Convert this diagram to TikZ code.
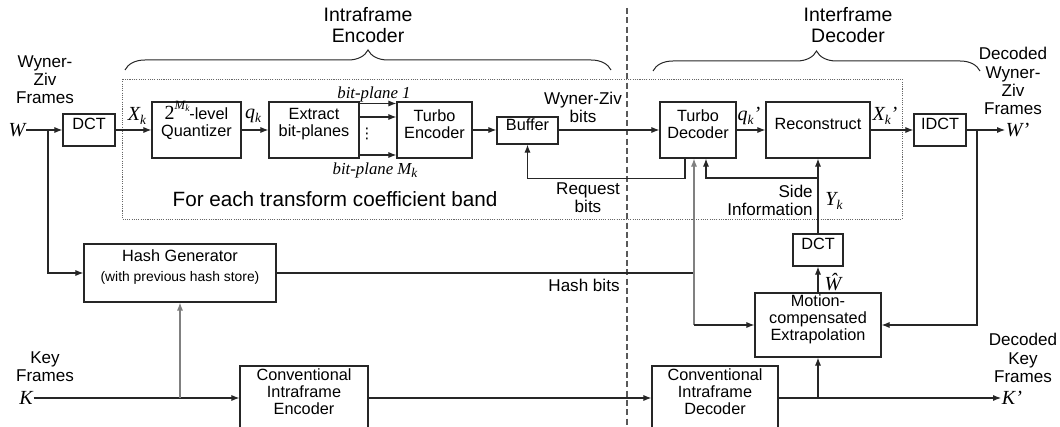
\documentclass[tikz,border=0pt]{standalone}
\usepackage{fontspec}
\setmainfont{Liberation Sans}
\newfontfamily\tnr{Liberation Serif}
\newfontfamily\djv{DejaVu Sans}
\usetikzlibrary{arrows.meta,fit,decorations.pathreplacing}
\newcommand{\lsub}[1]{\raisebox{-0.45ex}{\fontsize{10}{10}\selectfont #1}}
\newcommand{\mi}[1]{{\tnr\itshape\fontsize{15}{15}\selectfont #1}}
\tikzset{
 box/.style={draw=black!85, line width=0.9pt, inner sep=0pt, align=center, font=\fontsize{12.2}{12.8}\selectfont},
 ln/.style={draw=black!85, line width=0.8pt},
 arr/.style={ln, -{Latex[length=6pt,width=4.6pt]}},
 garr/.style={arr, draw=black!50},
 gln/.style={ln, draw=black!50},
 lbl/.style={align=center, inner sep=0pt, font=\fontsize{12.8}{13.6}\selectfont},
 head/.style={align=center, inner sep=0pt, font=\fontsize{14.6}{15.8}\selectfont},
 mlbl/.style={inner sep=0.5pt},
 bp/.style={inner sep=0pt, font=\tnr\itshape\fontsize{12.6}{12.6}\selectfont},
 brc/.style={decorate, decoration={brace, amplitude=15pt}, line width=0.75pt, draw=black!85},
}
\begin{document}
\begin{tikzpicture}[x=0.75pt,y=-0.75pt]
\useasboundingbox (0,0) rectangle (1060,427);
% headers and braces
\node[head] (hEnc) at (368,25) {Intraframe\\Encoder};
\node[head] (hDec) at (848,25) {Interframe\\Decoder};
\draw[brc] (125,70) -- (611,70);
\draw[brc] (653,71) -- (980,71);
% dividers
\draw[draw=black!65, line width=0.9pt, dash pattern=on 4.5pt off 2.5pt] (627,8) -- (627,427);
\draw[draw=black!60, line width=0.7pt, dash pattern=on 0.8pt off 0.9pt] (122,79) rectangle (902,219);
\node[font=\fontsize{15.5}{15.5}\selectfont, inner sep=0pt] (band) at (335,199) {For each transform coefficient band};
% side labels
\node[lbl] (wzf) at (45,80) {Wyner-\\Ziv\\Frames};
\node[lbl] (kf) at (45,367) {Key\\Frames};
\node[lbl] (dwz) at (1013,81) {Decoded\\Wyner-\\Ziv\\Frames};
\node[lbl] (dkf) at (1023,358) {Decoded\\Key\\Frames};
% main row
\node[mlbl] (w) at (17,130) {\mi{W}};
\node[box, fit={(63,114) (115,146)}] (dct1) {DCT};
\node[box, fit={(152,102) (241,158)}] (quant) {{\tnr\fontsize{15}{15}\selectfont 2}\raisebox{1.2ex}{\tnr\itshape\fontsize{9.5}{9.5}\selectfont M\raisebox{-0.35ex}{\fontsize{7}{7}\selectfont k}}-level\\Quantizer};
\node[box, fit={(269,102) (359,158)}] (extract) {Extract\\bit-planes};
\node[box, fit={(397,102) (472,158)}] (te) {Turbo\\Encoder};
\node[box, fit={(497,117) (558,144)}] (buffer) {Buffer};
\node[box, fit={(660,102) (736,158)}] (td) {Turbo\\Decoder};
\node[box, fit={(766,102) (870,158)}] (recon) {Reconstruct};
\node[box, fit={(914,114) (966,146)}] (idct) {IDCT};
\node[mlbl, anchor=west] (wp) at (1005,130) {\mi{W’}};
% lower boxes
\node[box, fit={(84,244) (276,302)}] (hash) {Hash Generator\\[2pt]{\fontsize{10.4}{10.4}\selectfont (with previous hash store)}};
\node[box, fit={(793,234) (843,266)}] (dct2) {DCT};
\node[box, fit={(755,293) (881,357)}] (mc) {Motion-\\compensated\\Extrapolation};
\node[box, fit={(240,366) (368,430)}] (ce) {Conventional\\Intraframe\\Encoder};
\node[box, fit={(652,366) (778,430)}] (cd) {Conventional\\Intraframe\\Decoder};
\node[mlbl] (k) at (26,398) {\mi{K}};
\node[mlbl, anchor=west] (kp) at (1001,398) {\mi{K’}};
% connector labels
\node[mlbl] (xk) at (137,116) {\mi{X\lsub{k}}};
\node[mlbl] (qk) at (253,116) {\mi{q\lsub{k}}};
\node[bp] (bp1) at (374,94) {bit-plane 1};
\node[bp] (bpm) at (375,170) {bit-plane M\lsub{k}};
\node[inner sep=0pt, font=\djv\fontsize{11}{11}\selectfont] (dots) at (367,134) {⋮};
\node[lbl] (wzb) at (583,107) {Wyner-Ziv\\bits};
\node[lbl] (req) at (588,198) {Request\\bits};
\node[mlbl] (qkp) at (749,116) {\mi{q\lsub{k}’}};
\node[mlbl] (xkp) at (885,116) {\mi{X\lsub{k}’}};
\node[lbl, align=right, anchor=east] (side) at (813,200) {Side\\Information};
\node[mlbl] (yk) at (834,201) {\mi{Y\lsub{k}}};
\node[lbl] (hb) at (584,285) {Hash bits};
\node[inner sep=0pt, anchor=south] (what) at (833,291.5) {\mi{\^{W}}};
% coordinates
\coordinate (wb) at (48,130);
\coordinate (kb) at (180,398);
\coordinate (ib) at (977,130);
\coordinate (si) at (818,178);
\coordinate (hj) at (694,273);
\coordinate (hm) at (694,325);
\coordinate (db) at (818,398);
% connectors
\draw[arr] (w) -- (dct1);
\draw[arr] (wb) |- (hash.west);
\draw[arr] (dct1) -- (quant);
\draw[arr] (quant) -- (extract);
\draw[arr] (extract.east |- 0,103.5) -- (te.west |- 0,103.5);
\draw[arr] (extract.east |- 0,117) -- (te.west |- 0,117);
\draw[arr] (extract.east |- 0,155) -- (te.west |- 0,155);
\draw[arr] (te.east) -- (te.east -| buffer.west);
\draw[arr] (buffer.east |- te.east) -- (td.west);
\draw[arr] (td.south -| 685,0) -- ++(0,20) -| (buffer.south);
\draw[arr] (td) -- (recon);
\draw[arr] (recon) -- (idct);
\draw[arr] (idct) -- (wp);
\draw[arr] (ib) |- (mc.east);
\draw[arr] (dct2) -- (recon);
\draw[arr] (si) -| (td.south -| 706,0);
\draw[ln] (hash.east) -- (hj);
\draw[garr] (hm) -- (td.south -| hm);
\draw[arr] (hm) -- (mc.west);
\draw[arr] (mc) -- (dct2);
\draw[arr] (k) -- (ce);
\draw[garr] (kb) -- (hash.south);
\draw[arr] (ce) -- (cd);
\draw[arr] (cd) -- (kp);
\draw[arr] (db) -- (mc.south);
\end{tikzpicture}
\end{document}
